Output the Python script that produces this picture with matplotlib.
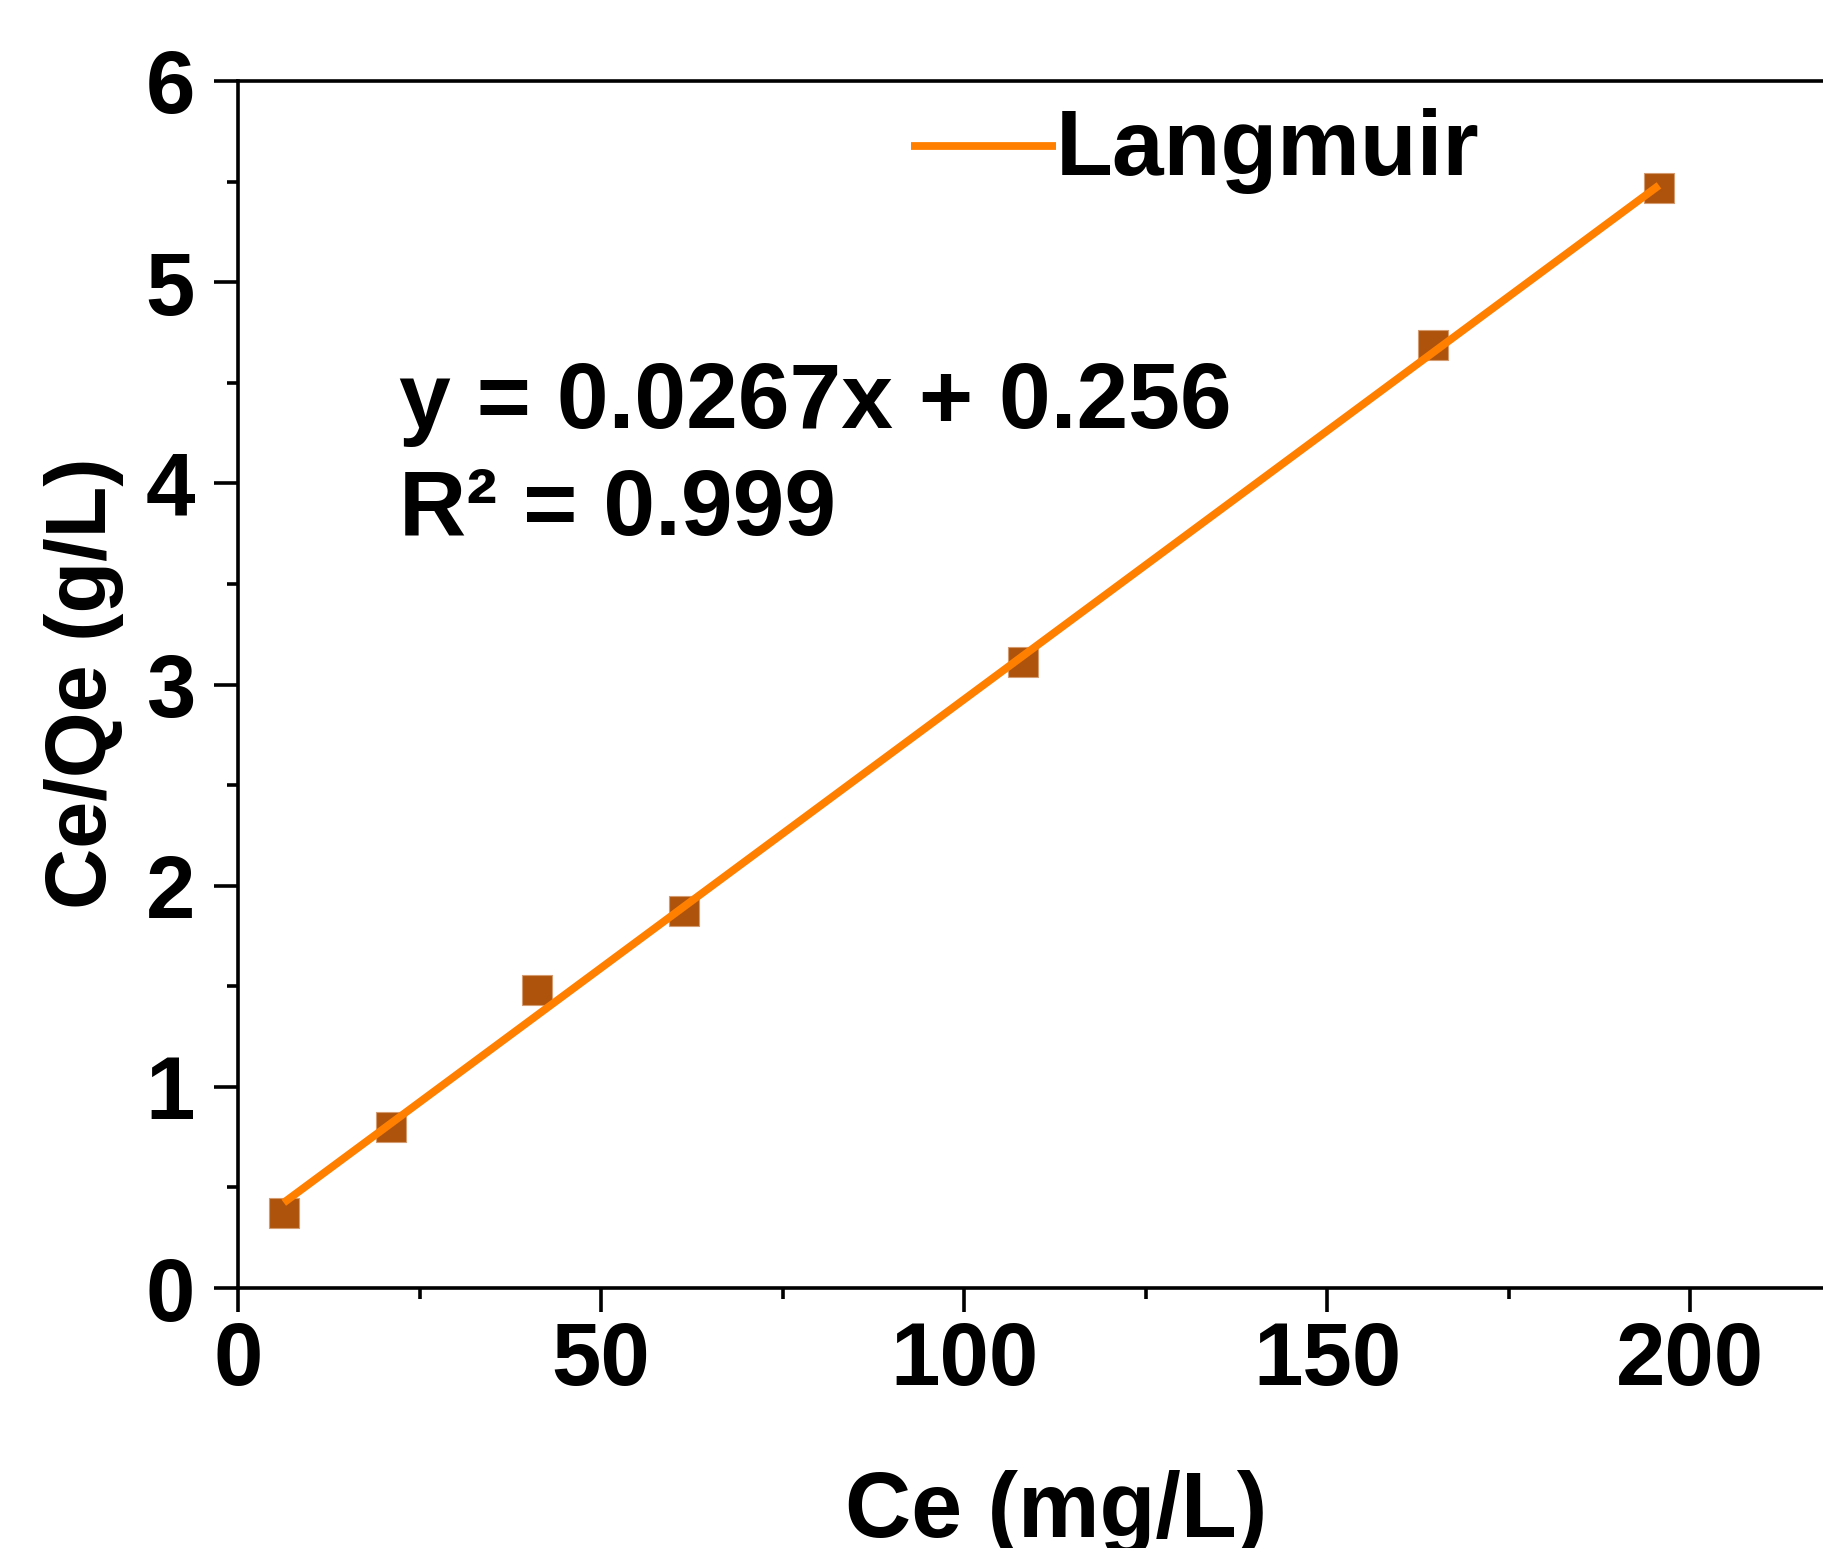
import numpy as np
import matplotlib
matplotlib.use('Agg')
from matplotlib import pyplot as plt
from matplotlib.ticker import MultipleLocator

# data
ce = [6.3, 21.1, 41.2, 61.4, 108.1, 164.6, 195.7]
ce_qe = [0.372, 0.80, 1.48, 1.875, 3.11, 4.69, 5.47]

# fit from the figure text
slope = 0.0267
intercept = 0.256
r2 = 0.999

plt.rcParams['font.family'] = ['Liberation Sans', 'DejaVu Sans']
plt.rcParams['font.weight'] = 'bold'
fs = 64

fig = plt.figure(figsize=(18.24, 15.48), dpi=100)
# axes runs past the right edge of the figure like the original
ax = fig.add_axes([238 / 1824, 1 - 1288 / 1548, 1670 / 1824, 1207 / 1548])

ax.plot(ce, ce_qe, 's', color='#AD530C', markersize=21,
        markeredgecolor='#D49A70', markeredgewidth=0.8, zorder=2)
x_fit = np.array([ce[0], ce[-1]])
ax.plot(x_fit, slope * x_fit + intercept, color='#FF8000', linewidth=5.6,
        label='Langmuir', zorder=3, solid_capstyle='butt')

ax.set_xlim(0, 230)
ax.set_ylim(0, 6)
ax.xaxis.set_major_locator(MultipleLocator(50))
ax.xaxis.set_minor_locator(MultipleLocator(25))
ax.yaxis.set_major_locator(MultipleLocator(1))
ax.yaxis.set_minor_locator(MultipleLocator(0.5))

for s in ax.spines.values():
    s.set_linewidth(2.6)
ax.tick_params(which='major', direction='out', length=17, width=2.6,
               labelsize=fs)
ax.tick_params(which='minor', direction='out', length=8, width=2.6)
ax.tick_params(axis='x', pad=6)
ax.tick_params(axis='y', pad=14)

ax.set_xlabel('Ce (mg/L)', fontsize=66, fontweight='bold', va='baseline')
ax.xaxis.set_label_coords((1056 - 238) / 1670, (1288 - 1537) / 1207)
ax.set_ylabel('Ce/Qe (g/L)', fontsize=61, fontweight='bold', va='center')
ax.yaxis.set_label_coords((84 - 238) / 1670, (1288 - 683) / 1207)

fig.text(399 / 1824, 1 - 428 / 1548, 'y = %.4fx + %.3f' % (slope, intercept),
         fontsize=67, fontweight='bold', va='baseline', ha='left')
fig.text(399 / 1824, 1 - 535 / 1548, 'R² = %.3f' % r2,
         fontsize=67, fontweight='bold', va='baseline', ha='left')

ax.legend(loc='center left', bbox_to_anchor=(911 / 1824, 1 - 151 / 1548),
          bbox_transform=fig.transFigure, frameon=False,
          handlelength=1.56, handleheight=0.48, handletextpad=0.0,
          borderpad=0, borderaxespad=0,
          prop={'weight': 'bold', 'size': 67})

fig.savefig('out.png', dpi=100)
